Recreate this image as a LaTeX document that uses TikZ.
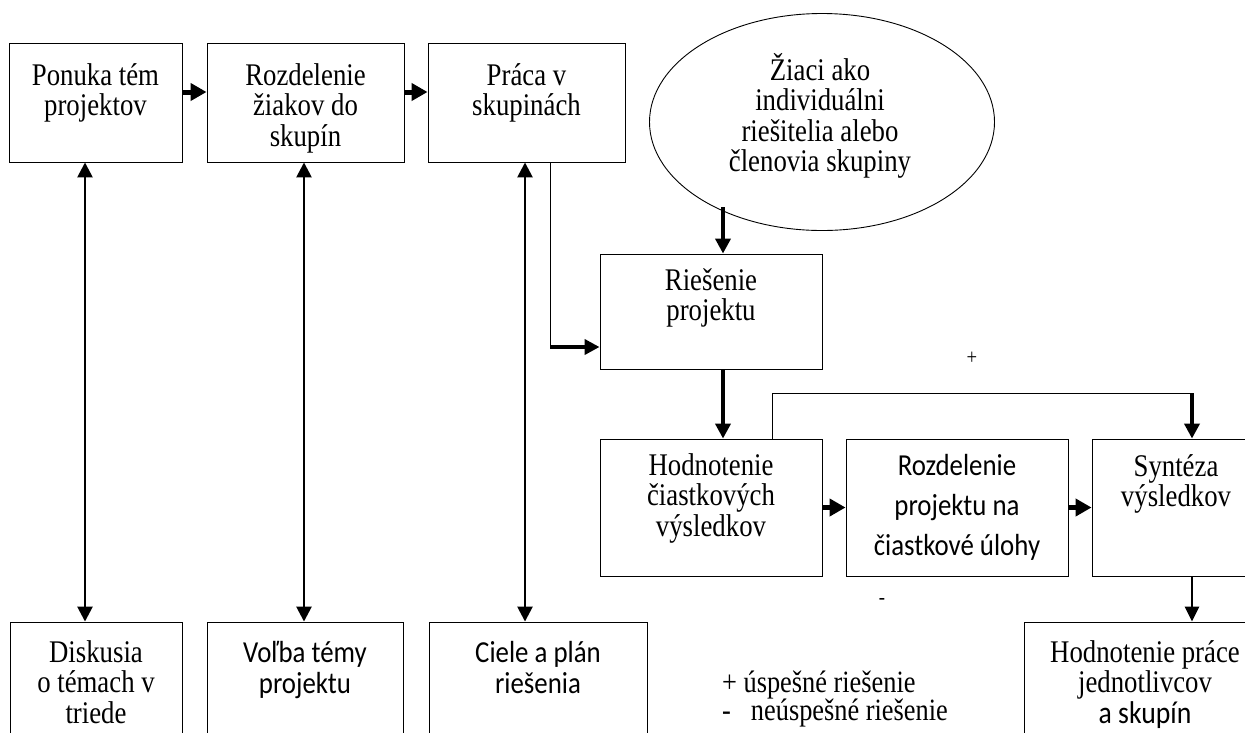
\documentclass[tikz,border=0pt]{standalone}
\usepackage{fontspec}
\setmainfont{Liberation Serif}[FakeStretch=0.85]
\newfontfamily\calib{Carlito}[FakeStretch=0.88]
\usetikzlibrary{arrows.meta,shapes.geometric}
\begin{document}
\begin{tikzpicture}[x=1pt,y=-1pt,
  box/.style={draw,line width=0.9pt,rectangle,inner sep=0},
  txt/.style={inner sep=0,anchor=north,align=center,font=\fontsize{31.5}{30.5}\selectfont},
  ctxt/.style={inner sep=0,anchor=north,align=center,font=\calib\fontsize{30.5}{31}\selectfont},
  bigarr/.style={line width=5pt,-{Triangle[length=16pt,width=17pt]}},
  midarr/.style={line width=4pt,-{Triangle[length=15pt,width=15pt]}},
  smallarr/.style={line width=2.6pt,-{Triangle[length=15pt,width=14pt]}},
  dblarr/.style={line width=2.6pt,{Triangle[length=15pt,width=15pt]}-{Triangle[length=15pt,width=15pt]}},
  thin/.style={line width=0.9pt}
]
\useasboundingbox (0,0) rectangle (1245,732);
\fill[white] (0,0) rectangle (1245,732);

% top row
\node[box,minimum width=173pt,minimum height=119pt] (b1) at (95.5,102.5) {};
\node[box,minimum width=197pt,minimum height=119pt] (b2) at (305.5,102.5) {};
\node[box,minimum width=197pt,minimum height=119pt] (b3) at (526.5,102.5) {};
\node[txt] (t1) at (95.5,63) {Ponuka tém\\projektov};
\node[txt] (t2) at (305.5,63) {Rozdelenie\\žiakov do\\skupín};
\node[txt] (t3) at (526.5,63) {Práca v\\skupinách};

% ellipse
\node[draw,thin,ellipse,minimum width=345pt,minimum height=217pt,inner sep=0] (el) at (822,122) {};
\node[txt] (tel) at (820,53) {Žiaci ako\\individuálni\\riešitelia alebo\\členovia skupiny};

% middle
\node[box,minimum width=222pt,minimum height=115pt] (r) at (711,311.5) {};
\node[txt] (tr) at (711,268) {Riešenie\\projektu};
\node[box,minimum width=222pt,minimum height=137pt] (h) at (711,507.5) {};
\node[txt] (th) at (711,453) {Hodnotenie\\čiastkových\\výsledkov};
\node[box,minimum width=222pt,minimum height=137pt] (p) at (957,507.5) {};
\node[ctxt,font=\calib\fontsize{30.5}{40}\selectfont] (tp) at (957,454) {Rozdelenie\\projektu na\\čiastkové úlohy};
\node[box,minimum width=168pt,minimum height=137pt] (s) at (1176,507.5) {};
\node[txt] (ts) at (1176,454) {Syntéza\\výsledkov};

% bottom row
\node[box,minimum width=172pt,minimum height=138pt] (d1) at (96,691) {};
\node[box,minimum width=196pt,minimum height=138pt] (d2) at (305,691) {};
\node[box,minimum width=218pt,minimum height=138pt] (d3) at (538,691) {};
\node[box,minimum width=242pt,minimum height=138pt] (d4) at (1145,691) {};
\node[txt] (td1) at (96,640) {Diskusia\\o témach v\\triede};
\node[ctxt] (td2) at (305,641) {Voľba témy\\projektu};
\node[ctxt] (td3) at (538,641) {Ciele a plán\\riešenia};
\node[txt] (td4) at (1145,640) {Hodnotenie práce\\jednotlivcov\\{\calib a skupín}};

% labels
\node[inner sep=0,font=\fontsize{22}{22}\selectfont] (plus) at (972,358) {+};
\node[inner sep=0,font=\fontsize{22}{22}\selectfont] (minus) at (882,601) {-};
\node[inner sep=0,anchor=west,font=\fontsize{31}{28}\selectfont] (lg1) at (722,685) {+ úspešné riešenie};
\node[inner sep=0,anchor=west,font=\fontsize{31}{28}\selectfont] (lg2) at (722,713) {-\hspace{20pt}neúspešné riešenie};

% connectors
\draw[bigarr] ([yshift=10.5pt]b1.east) -- ([yshift=10.5pt]b2.west);
\draw[bigarr] ([yshift=10.5pt]b2.east) -- ([yshift=10.5pt]b3.west);
\draw[dblarr] (b1.south -| 85,0) -- (d1.north -| 85,0);
\draw[dblarr] (b2.south -| 304,0) -- (d2.north -| 304,0);
\draw[dblarr] (b3.south -| 525,0) -- (d3.north -| 525,0);

\coordinate (c1) at (550,347);
\draw[thin] (b3.south -| c1) -- (c1);
\draw[midarr] (c1) -- (r.west |- c1);

\coordinate (e1) at (723,207);
\draw[midarr] (e1) -- (r.north -| e1);
\draw[midarr] (r.south -| e1) -- (h.north -| e1);

\coordinate (c2) at (772,393);
\coordinate (c3) at (1192,393);
\draw[thin] (h.north -| c2) -- (c2) -- (c3);
\draw[midarr] (c3) -- (s.north -| c3);

\draw[bigarr] (h.east) -- (p.west);
\draw[bigarr] (p.east) -- (s.west);
\draw[smallarr] (s.south -| c3) -- (d4.north -| c3);
\end{tikzpicture}
\end{document}
